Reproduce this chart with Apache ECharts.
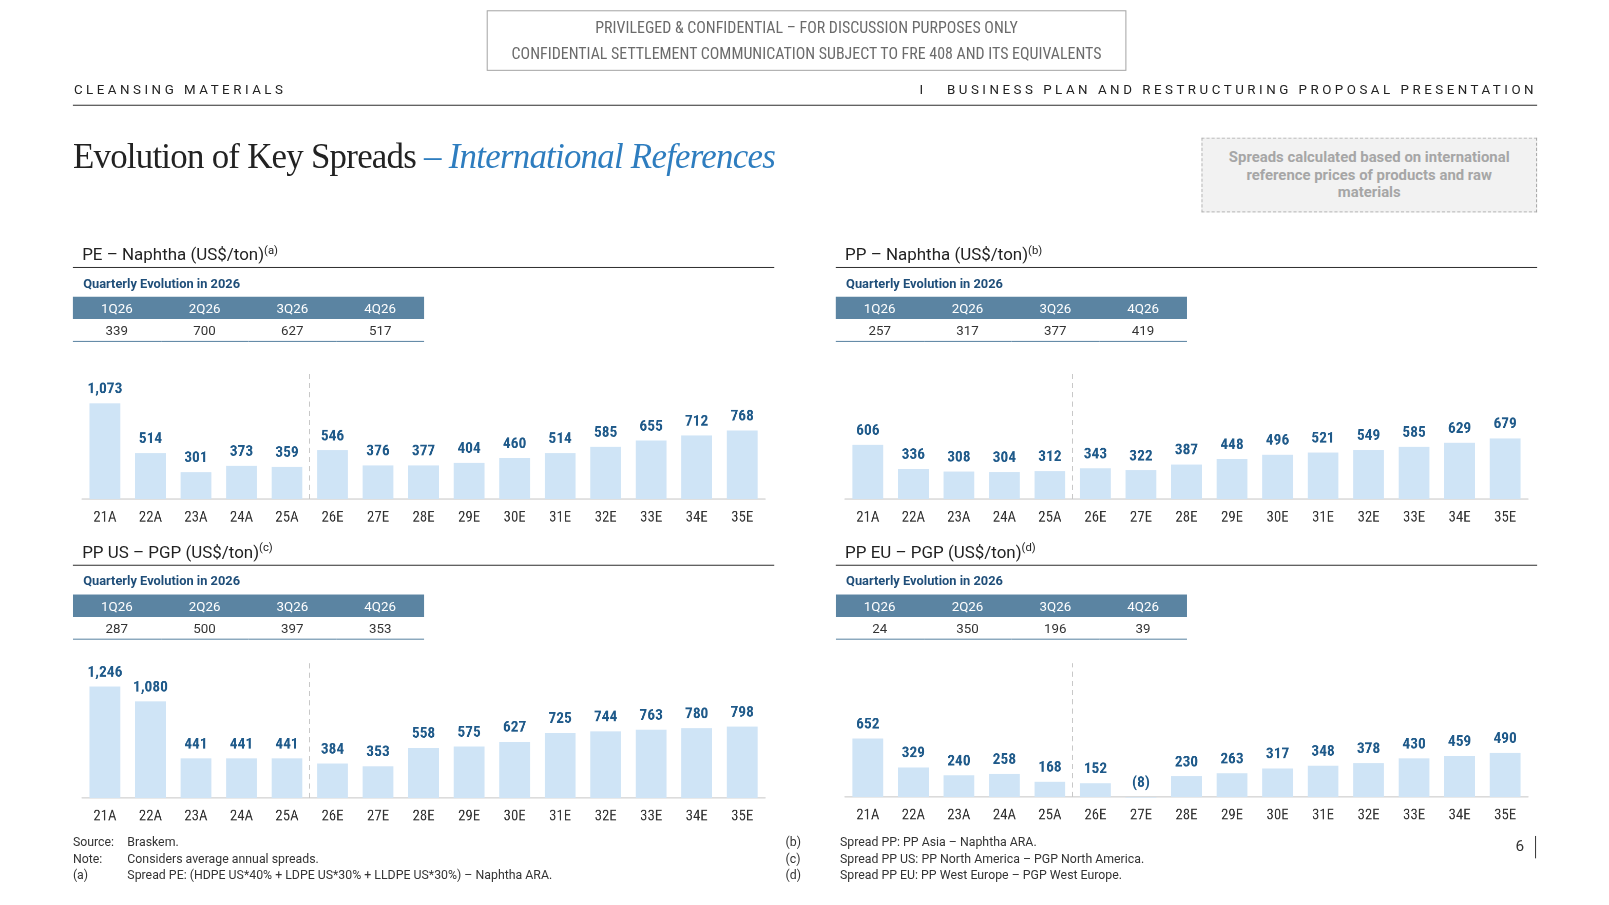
<!DOCTYPE html>
<html>
<head>
<meta charset="utf-8">
<script src="https://cdn.jsdelivr.net/npm/echarts@6/dist/echarts.min.js"></script>
<style>
  body { margin: 0; width: 1609px; height: 905px; background: #fff; position: relative; overflow: hidden;
         font-family: Roboto, "Liberation Sans", sans-serif; color: #222; }
  /* slide is laid out on a 1567 px grid and scaled up to the window */
  #page { position: absolute; left: 0; top: 0; width: 1567px; height: 882px; transform: scale(1.0268); transform-origin: 0 0; }
  .abs { position: absolute; }
  .narrow { font-family: "Liberation Sans Narrow", "Roboto Condensed", Roboto, sans-serif; }
  .conf { left: 474px; top: 10px; width: 621px; height: 57px; border: 1px solid #a6a6a6; text-align: center;
          color: #6b6b6b; font-size: 15.5px; }
  .conf div { position: absolute; left: 0; right: 0; }
  .hdr { font-size: 13px; letter-spacing: 3.4px; color: #222; }
  .rule { height: 0; border-top: 1.5px solid #333; }
  .title { font-family: "Liberation Serif", "DejaVu Serif", serif; font-size: 34px; color: #222; white-space: nowrap; letter-spacing: -0.75px; }
  .title i { color: #2e7dbf; }
  .note { left: 1170px; top: 134px; width: 327px; height: 73px; border: 1px dashed #a6a6a6; background: #f2f2f2;
          color: #a6a6a6; font-weight: bold; font-size: 14.5px; text-align: center; line-height: 17px;
          box-sizing: border-box; padding-top: 10px; white-space: nowrap; }
  .ptitle { font-size: 16.5px; color: #222; white-space: nowrap; }
  .ptitle sup { font-size: 11px; }
  .qlab { font-size: 12.5px; font-weight: bold; color: #1f4e79; }
  table.q { position: absolute; border-collapse: collapse; border-spacing: 0; width: 342px; font-size: 13px;
            background: linear-gradient(#5b84a2 0, #5b84a2 22px, transparent 22px); }
  table.q th { color: #fff; font-weight: normal; height: 22px; padding: 0; width: 25%; border: none; }
  table.q td { height: 21px; text-align: center; padding: 0; color: #333; border-bottom: 1.5px solid #5b84a2; }
  .chart { position: absolute; width: 700px; height: 200px; }
  .fn { font-size: 12px; color: #333; white-space: nowrap; }
</style>
</head>
<body>
<script>
// categories
const years = ['21A', '22A', '23A', '24A', '25A', '26E', '27E', '28E', '29E', '30E', '31E', '32E', '33E', '34E', '35E'];
const quarters = ['1Q26', '2Q26', '3Q26', '4Q26'];

// annual spreads (US$/ton)
const peNaphtha = [1073, 514, 301, 373, 359, 546, 376, 377, 404, 460, 514, 585, 655, 712, 768];
const ppNaphtha = [606, 336, 308, 304, 312, 343, 322, 387, 448, 496, 521, 549, 585, 629, 679];
const ppUsPgp = [1246, 1080, 441, 441, 441, 384, 353, 558, 575, 627, 725, 744, 763, 780, 798];
const ppEuPgp = [652, 329, 240, 258, 168, 152, -8, 230, 263, 317, 348, 378, 430, 459, 490];

// quarterly evolution in 2026
const peNaphthaQ = [339, 700, 627, 517];
const ppNaphthaQ = [257, 317, 377, 419];
const ppUsPgpQ = [287, 500, 397, 353];
const ppEuPgpQ = [24, 350, 196, 39];

// actuals end after this many categories (dashed separator)
const actualCount = 5;
</script>

<div id="page">
<div class="abs conf narrow">
  <div style="top:7px">PRIVILEGED &amp; CONFIDENTIAL – FOR DISCUSSION PURPOSES ONLY</div>
  <div style="top:32px">CONFIDENTIAL SETTLEMENT COMMUNICATION SUBJECT TO FRE 408 AND ITS EQUIVALENTS</div>
</div>
<div class="abs hdr" style="left:72px; top:80px;">CLEANSING MATERIALS</div>
<div class="abs hdr" style="right:70px; top:80px; white-space:nowrap;">I&nbsp;&nbsp;&nbsp;BUSINESS PLAN AND RESTRUCTURING PROPOSAL PRESENTATION</div>
<div class="abs rule" style="left:71px; top:102px; width:1426px;"></div>
<div class="abs title" style="left:71px; top:134px;">Evolution of Key Spreads <i>– International References</i></div>
<div class="abs note">Spreads calculated based on international<br>reference prices of products and raw<br>materials</div>

<div id="panels"></div>

<div class="abs fn" style="left:71px; top:813px;">Source:</div>
<div class="abs fn" style="left:124px; top:813px;">Braskem.</div>
<div class="abs fn" style="left:71px; top:829px;">Note:</div>
<div class="abs fn" style="left:124px; top:829px;">Considers average annual spreads.</div>
<div class="abs fn" style="left:71px; top:845px;">(a)</div>
<div class="abs fn" style="left:124px; top:845px;">Spread PE: (HDPE US*40% + LDPE US*30% + LLDPE US*30%) – Naphtha ARA.</div>
<div class="abs fn" style="left:765px; top:813px;">(b)</div>
<div class="abs fn" style="left:818px; top:813px;">Spread PP: PP Asia – Naphtha ARA.</div>
<div class="abs fn" style="left:765px; top:829px;">(c)</div>
<div class="abs fn" style="left:818px; top:829px;">Spread PP US: PP North America – PGP North America.</div>
<div class="abs fn" style="left:765px; top:845px;">(d)</div>
<div class="abs fn" style="left:818px; top:845px;">Spread PP EU: PP West Europe – PGP West Europe.</div>
<div class="abs" style="left:1476px; top:815px; font-size:15px; color:#333;">6</div>
<div class="abs" style="left:1495px; top:814px; width:0; height:22px; border-left:1.5px solid #333;"></div>
</div>

<script>
// panel layout (gt = top of plot area, gh = plot height)
const panels = [
    { name: 'PE – Naphtha (US$/ton)', sup: '(a)', data: peNaphtha, q: peNaphthaQ, x: 71, y: 0, gt: 360, gh: 126 },
    { name: 'PP – Naphtha (US$/ton)', sup: '(b)', data: ppNaphtha, q: ppNaphthaQ, x: 814, y: 0, gt: 360, gh: 126 },
    { name: 'PP US – PGP (US$/ton)', sup: '(c)', data: ppUsPgp, q: ppUsPgpQ, x: 71, y: 290, gt: 646, gh: 131 },
    { name: 'PP EU – PGP (US$/ton)', sup: '(d)', data: ppEuPgp, q: ppEuPgpQ, x: 814, y: 290, gt: 646, gh: 130 }
];
// same vertical scale for all four charts (US$/ton per pixel)
const perPx = 11.5;
const labelFont = 'Liberation Sans Narrow, Roboto Condensed, Roboto, sans-serif';

const fmt = (v) => v < 0 ? '(' + Math.abs(v).toLocaleString('en-US') + ')' : v.toLocaleString('en-US');

let host = document.getElementById('panels');
panels.forEach((p) => {
    let html = '';
    html += `<div class="abs ptitle" style="left:${p.x + 9}px; top:${p.y + 237}px;">${p.name}<sup>${p.sup}</sup></div>`;
    html += `<div class="abs rule" style="left:${p.x}px; top:${p.y + 260}px; width:683px; border-top-width:1.2px;"></div>`;
    html += `<div class="abs qlab" style="left:${p.x + 10}px; top:${p.y + 268}px;">Quarterly Evolution in 2026</div>`;
    html += `<table class="q" style="left:${p.x}px; top:${p.y + 289}px;"><tr>`;
    quarters.forEach((q) => { html += `<th>${q}</th>`; });
    html += '</tr><tr>';
    p.q.forEach((v) => { html += `<td>${fmt(v)}</td>`; });
    html += '</tr></table>';
    html += `<div class="chart" style="left:${p.x}px; top:${p.gt - 30}px;"></div>`;
    let wrap = document.createElement('div');
    wrap.innerHTML = html;
    [...wrap.children].forEach((el) => host.appendChild(el));
    let box = host.lastElementChild;

    let chart = echarts.init(box, null, { width: 700, height: 200, devicePixelRatio: 2 });
    chart.setOption({
        animation: false,
        grid: { left: 9, top: 30, width: 665, height: p.gh },
        xAxis: [{
            type: 'category',
            data: years,
            axisLine: { lineStyle: { color: '#d9d9d9', width: 1.5 } },
            axisTick: { show: false },
            axisLabel: { color: '#333', fontSize: 14.5, margin: 11, fontFamily: labelFont },
            splitLine: { show: false }
        }, {
            // helper axis in band units, used only to place the actual/estimate separator
            type: 'value',
            min: 0,
            max: years.length,
            show: false
        }],
        yAxis: { type: 'value', min: 0, max: p.gh * perPx, show: false },
        series: [{
            type: 'bar',
            data: p.data,
            barWidth: 30,
            clip: false,
            itemStyle: { color: '#cfe4f6' },
            label: {
                show: true,
                position: 'top',
                distance: 6,
                color: '#1f5a8a',
                fontWeight: 'bold',
                fontSize: 15,
                fontFamily: labelFont,
                formatter: (d) => fmt(d.value)
            }
        }, {
            type: 'line',
            xAxisIndex: 1,
            data: [],
            markLine: {
                silent: true,
                symbol: 'none',
                label: { show: false },
                lineStyle: { color: '#c8c8c8', type: [5, 4], width: 1 },
                data: [{ xAxis: actualCount }]
            }
        }]
    });
});
</script>
</body>
</html>
